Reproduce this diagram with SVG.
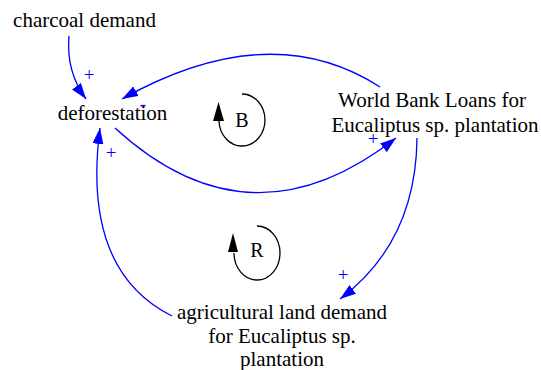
<svg xmlns="http://www.w3.org/2000/svg" width="541" height="370" viewBox="0 0 541 370">
<style>
.lbl{font-family:"Liberation Serif","Times New Roman",serif;font-size:21px;fill:#000;text-anchor:middle}
.pol{font-family:"Liberation Serif","Times New Roman",serif;font-size:19px;fill:#0000ff;text-anchor:middle}
.link{fill:none;stroke:#0000ff;stroke-width:1.3;marker-end:url(#ah)}
.loop{fill:none;stroke:#000;stroke-width:1.3}
.loophead{fill:#000}
.loopl{font-family:"Liberation Serif","Times New Roman",serif;font-size:20px;fill:#000;text-anchor:middle}
</style>
<defs>
<marker id="ah" markerUnits="userSpaceOnUse" markerWidth="17" markerHeight="11" refX="16" refY="5.5" orient="auto">
<path d="M0,0 L16,5.5 L0,11 z" fill="#0000ff"/>
</marker>
</defs>
<rect width="541" height="370" fill="#fff"/>
<g id="connectors">
<path class="link" d="M69,36 Q66,72 86,99"/>
<path class="link" d="M380,87 Q270,16 122,99"/>
<path class="link" d="M115,128 Q250,252 396,138"/>
<path class="link" d="M417,138 Q416,242 340,299"/>
<path class="link" d="M172,316 C110,285 88,220 100,128"/>
<text class="pol" x="89" y="81">+</text>
<text class="pol" x="143" y="110">-</text>
<text class="pol" x="373" y="145">+</text>
<text class="pol" x="343" y="281">+</text>
<text class="pol" x="111" y="159">+</text>
</g>
<g id="charcoal_demand"><text class="lbl" x="84.5" y="27">charcoal demand</text></g>
<g id="deforestation"><text class="lbl" x="112.5" y="120">deforestation</text></g>
<g id="world_bank_loans">
<text class="lbl" x="432" y="107">World Bank Loans for</text>
<text class="lbl" x="435" y="132">Eucaliptus sp. plantation</text>
</g>
<g id="agricultural_land_demand">
<text class="lbl" x="282" y="319">agricultural land demand</text>
<text class="lbl" x="282" y="343">for Eucaliptus sp.</text>
<text class="lbl" x="282" y="366">plantation</text>
</g>
<g id="loop_B">
<path class="loop" d="M242,94 A23,26 0 1 1 219,121"/>
<polygon class="loophead" points="218.5,102 213,121 224,121"/>
<text class="loopl" x="242" y="127">B</text>
</g>
<g id="loop_R">
<path class="loop" d="M257,226 A23,27 0 1 1 234,253"/>
<polygon class="loophead" points="233,233 228,252 238,252"/>
<text class="loopl" x="257" y="257">R</text>
</g>
</svg>
